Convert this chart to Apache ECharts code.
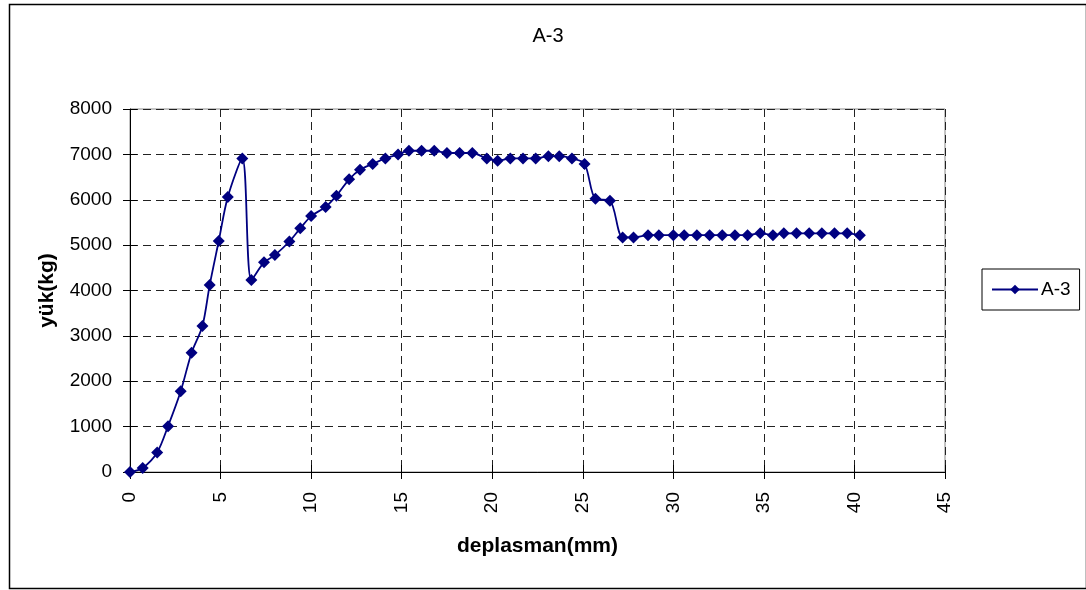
<!DOCTYPE html>
<html>
<head>
<meta charset="utf-8">
<script src="https://cdn.jsdelivr.net/npm/echarts@6/dist/echarts.min.js"></script>
<style>
  html, body { margin: 0; padding: 0; background: #fff; }
  #chart { width: 1086px; height: 590px; }
</style>
</head>
<body>
<div id="chart"></div>
<script>
// Load–displacement record for specimen A-3
const seriesName = 'A-3';
const displacement = [0, 0.7, 1.5, 2.1, 2.8, 3.4, 4.0, 4.4, 4.9, 5.4,
  6.2, 6.7, 7.4, 8.0, 8.8, 9.4, 10.0, 10.8, 11.4, 12.1,
  12.7, 13.4, 14.1, 14.8, 15.4, 16.1, 16.8, 17.5, 18.2, 18.9,
  19.7, 20.3, 21.0, 21.7, 22.4, 23.1, 23.7, 24.4, 25.1, 25.7,
  26.5, 27.2, 27.8, 28.6, 29.2, 30.0, 30.6, 31.3, 32.0, 32.7,
  33.4, 34.1, 34.8, 35.5, 36.1, 36.8, 37.5, 38.2, 38.9, 39.6,
  40.3];
const load = [0, 90, 430, 1010, 1780, 2630, 3220, 4120, 5090, 6060,
  6910, 4230, 4620, 4780, 5080, 5370, 5640, 5840, 6090, 6450,
  6660, 6790, 6910, 7000, 7080, 7080, 7080, 7030, 7030, 7030,
  6910, 6860, 6910, 6910, 6910, 6960, 6960, 6910, 6790, 6020,
  5980, 5170, 5170, 5220, 5220, 5220, 5220, 5220, 5220, 5220,
  5220, 5220, 5260, 5220, 5260, 5260, 5260, 5260, 5260, 5260,
  5220];
const xTicks = { min: 0, max: 45, interval: 5 };
const yTicks = { min: 0, max: 8000, interval: 1000 };

const font = '"Liberation Sans", Arial, sans-serif';
const points = displacement.map((x, i) => [x, load[i]]);
const gridDash = { color: '#222', type: [8, 5], width: 1 };

// Ticks cross the axis line: the outer half comes from the main axis,
// the inner half from a label-less twin axis.
function innerTwin(base, extra) {
  return Object.assign({
    type: 'value', min: base.min, max: base.max, interval: base.interval,
    axisLine: { show: false, onZero: false },
    axisTick: { show: true, inside: true, length: 7, lineStyle: { color: '#000' } },
    axisLabel: { show: false },
    splitLine: { show: false }
  }, extra);
}

const chart = echarts.init(document.getElementById('chart'), null, { renderer: 'canvas' });
chart.setOption({
  animation: false,
  backgroundColor: '#fff',
  title: {
    text: seriesName,
    left: 543, top: 21, textAlign: 'center',
    textStyle: { fontFamily: font, fontSize: 20, fontWeight: 'normal', color: '#000' }
  },
  graphic: [{
    type: 'rect', left: 7, top: 2, z: -1,
    shape: { width: 1077, height: 584 },
    style: { fill: 'none', stroke: '#000', lineWidth: 1.5 }
  }],
  legend: {
    left: 982, top: 269,
    padding: [11, 9, 11, 9],
    borderColor: '#000', borderWidth: 1,
    itemWidth: 46, itemHeight: 12, itemGap: 4,
    textStyle: { fontFamily: font, fontSize: 19, color: '#000', padding: [0, 0, 0, -2] },
    data: [seriesName]
  },
  grid: {
    left: 130, right: 141, top: 109, bottom: 118,
    show: true, borderColor: '#888', borderWidth: 1
  },
  xAxis: [{
    type: 'value',
    min: xTicks.min, max: xTicks.max, interval: xTicks.interval,
    name: 'deplasman(mm)', nameLocation: 'middle', nameGap: 64,
    nameTextStyle: { fontFamily: font, fontSize: 21, fontWeight: 'bold', color: '#000' },
    axisLine: { lineStyle: { color: '#000', width: 1 } },
    axisTick: { show: true, inside: false, length: 7, lineStyle: { color: '#000' } },
    axisLabel: { rotate: 90, margin: 20, fontFamily: font, fontSize: 19, color: '#000' },
    splitLine: { show: true, lineStyle: gridDash }
  }, innerTwin(xTicks, { position: 'bottom', offset: 0 })],
  yAxis: [{
    type: 'value',
    min: yTicks.min, max: yTicks.max, interval: yTicks.interval,
    name: 'yük(kg)', nameLocation: 'middle', nameGap: 72, nameRotate: 90,
    nameTextStyle: { fontFamily: font, fontSize: 21, fontWeight: 'bold', color: '#000' },
    axisLine: { show: true, lineStyle: { color: '#000', width: 1 } },
    axisTick: { show: true, inside: false, length: 7, lineStyle: { color: '#000' } },
    axisLabel: { margin: 18, fontFamily: font, fontSize: 19, color: '#000', formatter: v => String(v) },
    splitLine: { show: true, lineStyle: gridDash }
  }, innerTwin(yTicks, { position: 'left', offset: 0 })],
  series: [{
    name: seriesName,
    type: 'line',
    xAxisIndex: 0, yAxisIndex: 0,
    data: points,
    smooth: 0.3,
    symbol: 'diamond',
    symbolSize: 12,
    showAllSymbol: true,
    itemStyle: { color: '#000080' },
    lineStyle: { color: '#000080', width: 1.8 }
  }]
});
</script>
</body>
</html>
